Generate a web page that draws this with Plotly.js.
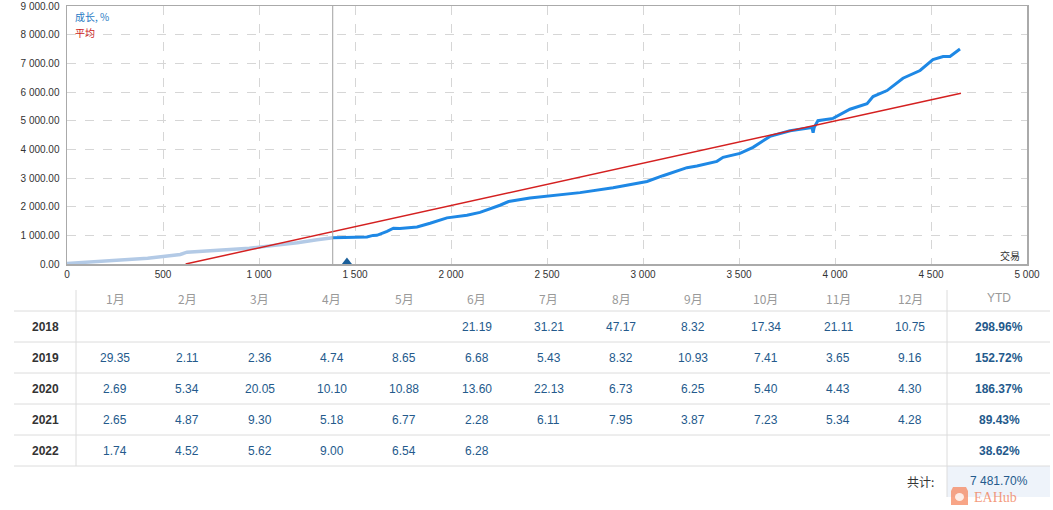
<!DOCTYPE html>
<html>
<head>
<meta charset="utf-8">
<script src="https://cdn.plot.ly/plotly-3.0.1.min.js"></script>
<style>html,body{margin:0;padding:0;background:#fff;}#chart{width:1053px;height:510px;}</style>
</head>
<body>
<div id="chart"></div>
<script>
// ---- DATA ----
var historyX = [0, 100, 172, 250, 344, 420, 500, 560, 590, 625, 694, 780, 866, 950, 1000, 1060, 1128, 1200, 1302, 1384];
var historyY = [20, 60, 100, 130, 157, 200, 262, 300, 333, 413, 437, 470, 507, 550, 589, 630, 683, 740, 847, 917];
var growthX = [1384, 1450, 1520, 1562, 1594, 1614, 1667, 1700, 1734, 1823, 1891, 1979, 2083, 2151, 2255, 2300, 2411, 2500, 2672, 2844, 3021, 3104, 3229, 3281, 3385, 3417, 3505, 3573, 3661, 3766, 3880, 3886, 3892, 3911, 3990, 4078, 4167, 4198, 4271, 4354, 4406, 4443, 4510, 4563, 4599, 4651];
var growthY = [917, 925, 935, 940, 998, 1000, 1140, 1250, 1240, 1290, 1420, 1610, 1700, 1800, 2050, 2180, 2300, 2370, 2490, 2660, 2880, 3080, 3360, 3420, 3580, 3720, 3860, 4070, 4450, 4650, 4760, 4580, 4770, 5000, 5080, 5400, 5590, 5840, 6050, 6480, 6630, 6750, 7130, 7240, 7240, 7500];
var avgX = [618, 4656];
var avgY = [0, 5960];
var splitTrade = 1384;
var markerX = [1458];
var markerY = [0];

var monthLabels = ['1月','2月','3月','4月','5月','6月','7月','8月','9月','10月','11月','12月'];
var years = ['2018','2019','2020','2021','2022'];
var row2018 = [null, null, null, null, null, 21.19, 31.21, 47.17, 8.32, 17.34, 21.11, 10.75];
var row2019 = [29.35, 2.11, 2.36, 4.74, 8.65, 6.68, 5.43, 8.32, 10.93, 7.41, 3.65, 9.16];
var row2020 = [2.69, 5.34, 20.05, 10.10, 10.88, 13.60, 22.13, 6.73, 6.25, 5.40, 4.43, 4.30];
var row2021 = [2.65, 4.87, 9.30, 5.18, 6.77, 2.28, 6.11, 7.95, 3.87, 7.23, 5.34, 4.28];
var row2022 = [1.74, 4.52, 5.62, 9.00, 6.54, 6.28, null, null, null, null, null, null];
var ytdValues = ['298.96%', '152.72%', '186.37%', '89.43%', '38.62%'];
var totalLabel = '共计:';
var totalValue = '7 481.70%';

// ---- LAYOUT HELPERS ----
var L = 67, R = 1027, T = 6, B = 264;
function px(x) { return (x - L) / (R - L); }
function py(y) { return (B - y) / (B - T); }

var FONT = 'Liberation Sans, Arial, sans-serif';
var CJK = 'Noto Sans CJK SC, sans-serif';

var traces = [
  {x: historyX, y: historyY, type: 'scatter', mode: 'lines', line: {color: '#b3cae6', width: 3.5}, hoverinfo: 'skip'},
  {x: growthX, y: growthY, type: 'scatter', mode: 'lines', line: {color: '#1e88e5', width: 3}, hoverinfo: 'skip'},
  {x: avgX, y: avgY, type: 'scatter', mode: 'lines', line: {color: '#d42020', width: 1.5}, hoverinfo: 'skip'},
  {x: markerX, y: markerY, type: 'scatter', mode: 'markers', cliponaxis: true,
   marker: {symbol: 'triangle-up', size: 13, color: '#1a5f9a'}, hoverinfo: 'skip'}
];

var annotations = [];
var shapes = [];

// legend texts
annotations.push({xref: 'paper', yref: 'paper', x: px(73), y: py(17), xanchor: 'left', yanchor: 'middle',
  text: '成长, %', showarrow: false, font: {family: CJK, size: 10, color: '#2b7bc4'}});
annotations.push({xref: 'paper', yref: 'paper', x: px(73), y: py(33), xanchor: 'left', yanchor: 'middle',
  text: '平均', showarrow: false, font: {family: CJK, size: 10, color: '#cc1a1a'}});
annotations.push({xref: 'paper', yref: 'paper', x: px(1022), y: py(255), xanchor: 'right', yanchor: 'middle',
  text: '交易', showarrow: false, font: {family: CJK, size: 10, color: '#333'}});

// split line
shapes.push({type: 'line', xref: 'x', yref: 'paper', x0: splitTrade, x1: splitTrade, y0: 0, y1: 1,
  line: {color: '#a0a0a0', width: 1}});

// ---- TABLE ----
var colX = [];
for (var i = 0; i < 12; i++) colX.push(115 + 72.3 * i);
var ytdX = 999, yearX = 45;
var headerY = 298;
var rowY = [327, 358, 389, 420, 451];
var totalY = 481;
var rowLines = [311, 342, 373, 404, 435, 466];
var rows = [row2018, row2019, row2020, row2021, row2022];

function ann(xp, yp, text, font) {
  annotations.push({xref: 'paper', yref: 'paper', x: px(xp), y: py(yp), xanchor: 'center', yanchor: 'middle',
    text: text, showarrow: false, font: font});
}
for (var m = 0; m < 12; m++) ann(colX[m], headerY, monthLabels[m], {family: CJK, size: 12, color: '#999'});
ann(ytdX, headerY, 'YTD', {family: FONT, size: 12, color: '#999'});
for (var r = 0; r < years.length; r++) {
  ann(yearX, rowY[r], '<b>' + years[r] + '</b>', {family: FONT, size: 12, color: '#333'});
  for (var c = 0; c < 12; c++) {
    var v = rows[r][c];
    if (v !== null) ann(colX[c], rowY[r], v.toFixed(2), {family: FONT, size: 12, color: '#245a8c'});
  }
  ann(ytdX, rowY[r], '<b>' + ytdValues[r] + '</b>', {family: FONT, size: 12, color: '#245a8c'});
}
annotations.push({xref: 'paper', yref: 'paper', x: px(936), y: py(totalY), xanchor: 'right', yanchor: 'middle',
  text: totalLabel, showarrow: false, font: {family: CJK, size: 12, color: '#333'}});

// total cell background
shapes.push({type: 'rect', xref: 'paper', yref: 'paper', x0: px(947), x1: px(1050), y0: py(466), y1: py(497),
  fillcolor: '#eef3fa', line: {width: 0}, layer: 'below'});
ann(ytdX, totalY, totalValue, {family: FONT, size: 12, color: '#245a8c'});

for (var k = 0; k < rowLines.length; k++) {
  shapes.push({type: 'line', xref: 'paper', yref: 'paper', x0: px(14), x1: px(1050), y0: py(rowLines[k]), y1: py(rowLines[k]),
    line: {color: '#dcdcdc', width: 1}});
}
shapes.push({type: 'line', xref: 'paper', yref: 'paper', x0: px(76), x1: px(76), y0: py(290), y1: py(466),
  line: {color: '#dcdcdc', width: 1}});
shapes.push({type: 'line', xref: 'paper', yref: 'paper', x0: px(947), x1: px(947), y0: py(290), y1: py(497),
  line: {color: '#dcdcdc', width: 1}});

// watermark
shapes.push({type: 'path', xref: 'paper', yref: 'paper',
  path: 'M ' + px(953) + ',' + py(487) + ' L ' + px(966) + ',' + py(487) + ' L ' + px(968) + ',' + py(491) +
        ' L ' + px(968) + ',' + py(505) + ' L ' + px(951) + ',' + py(505) + ' L ' + px(951) + ',' + py(491) + ' Z',
  fillcolor: 'rgba(245,135,95,0.75)', line: {width: 0}});
shapes.push({type: 'circle', xref: 'paper', yref: 'paper', x0: px(955), x1: px(964), y0: py(493), y1: py(501),
  fillcolor: 'rgba(255,255,255,0.8)', line: {width: 0}});
annotations.push({xref: 'paper', yref: 'paper', x: px(972), y: py(498), xanchor: 'left', yanchor: 'middle',
  text: 'EAHub', showarrow: false, font: {family: 'Liberation Serif, serif', size: 14, color: 'rgba(240,120,80,0.75)'}});

var layout = {
  width: 1053, height: 510,
  margin: {l: L, r: 1053 - R, t: T, b: 510 - B, pad: 0},
  paper_bgcolor: '#fff', plot_bgcolor: '#fff',
  showlegend: false,
  separators: '. ',
  xaxis: {range: [0, 5000], dtick: 500, tickformat: ',d', showgrid: true, gridcolor: '#d6d6d6', griddash: 'dash',
    zeroline: false, showline: true, mirror: true, linecolor: '#aaaaaa', linewidth: 1.5, ticks: '',
    tickfont: {family: FONT, size: 10, color: '#333'}, fixedrange: true},
  yaxis: {range: [0, 9000], dtick: 1000, tickformat: ',.2f', showgrid: true, gridcolor: '#d6d6d6', griddash: 'dash',
    zeroline: false, showline: true, mirror: true, linecolor: '#aaaaaa', linewidth: 1.5, ticks: '',
    ticklabelstandoff: 4, tickfont: {family: FONT, size: 10, color: '#333'}, fixedrange: true},
  annotations: annotations,
  shapes: shapes
};

Plotly.newPlot('chart', traces, layout, {staticPlot: true, displayModeBar: false});
</script>
</body>
</html>
